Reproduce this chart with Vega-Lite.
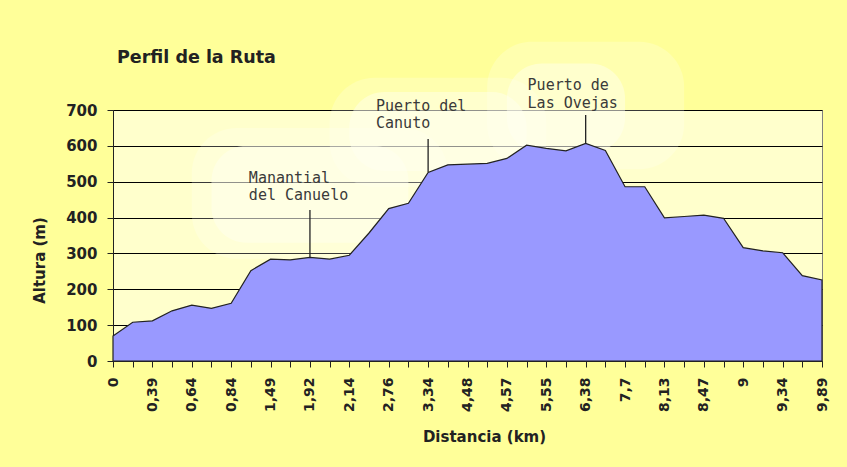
{
  "$schema": "https://vega.github.io/schema/vega-lite/v6.json",
  "width": 709,
  "height": 251,
  "autosize": {"type": "none"},
  "padding": {"left": 113, "top": 110, "right": 25, "bottom": 106},
  "background": "#FFFF99",
  "title": {"text": "Perfil de la Ruta", "anchor": "start", "frame": "group", "font": "DejaVu Sans", "fontSize": 17.5, "fontWeight": "bold", "color": "#222222", "dx": 4, "dy": 29},
  "config": {
    "view": {"fill": "#FFFFCC", "stroke": "#808080", "strokeWidth": 1},
    "axis": {"labelFont": "DejaVu Sans", "labelFontWeight": "bold", "labelColor": "#222222", "titleFont": "DejaVu Sans", "titleFontWeight": "bold", "titleColor": "#222222", "titleFontSize": 15, "domainColor": "#222222", "tickColor": "#222222", "tickSize": 6}
  },
  "datasets": {
    "perfil": [
      {"km": "0", "alt": 70},
      {"km": "0,2", "alt": 108},
      {"km": "0,39", "alt": 112},
      {"km": "0,5", "alt": 140},
      {"km": "0,64", "alt": 156},
      {"km": "0,75", "alt": 147},
      {"km": "0,84", "alt": 161},
      {"km": "1,2", "alt": 252},
      {"km": "1,49", "alt": 284},
      {"km": "1,7", "alt": 282},
      {"km": "1,92", "alt": 289},
      {"km": "2,0", "alt": 284},
      {"km": "2,14", "alt": 295},
      {"km": "2,45", "alt": 357},
      {"km": "2,76", "alt": 425},
      {"km": "3,05", "alt": 440},
      {"km": "3,34", "alt": 526},
      {"km": "3,9", "alt": 547},
      {"km": "4,48", "alt": 549},
      {"km": "4,52", "alt": 551},
      {"km": "4,57", "alt": 565},
      {"km": "5,1", "alt": 602},
      {"km": "5,55", "alt": 593},
      {"km": "6,0", "alt": 586},
      {"km": "6,38", "alt": 607},
      {"km": "7,0", "alt": 587},
      {"km": "7,7", "alt": 486},
      {"km": "7,9", "alt": 486},
      {"km": "8,13", "alt": 399},
      {"km": "8,3", "alt": 403},
      {"km": "8,47", "alt": 407},
      {"km": "8,7", "alt": 398},
      {"km": "9", "alt": 316},
      {"km": "9,2", "alt": 307},
      {"km": "9,34", "alt": 302},
      {"km": "9,6", "alt": 238},
      {"km": "9,89", "alt": 226}
    ],
    "halosOuter": [
      {"km": "0,64", "km2": "3,9", "alt": 650, "alt2": 285},
      {"km": "2,0", "km2": "5,55", "alt": 790, "alt2": 485},
      {"km": "4,52", "km2": "8,3", "alt": 890, "alt2": 535}
    ],
    "halosInner": [
      {"km": "0,75", "km2": "3,05", "alt": 600, "alt2": 330},
      {"km": "2,14", "km2": "5,1", "alt": 750, "alt2": 530},
      {"km": "4,57", "km2": "7,7", "alt": 830, "alt2": 580}
    ],
    "lineas": [
      {"km": "1,92", "alt": 421, "alt2": 289},
      {"km": "3,34", "alt": 619, "alt2": 527},
      {"km": "6,38", "alt": 686, "alt2": 608}
    ]
  },
  "encoding": {
    "x": {"field": "km", "type": "ordinal",
      "scale": {"type": "point", "padding": 0, "domain": ["0", "0,2", "0,39", "0,5", "0,64", "0,75", "0,84", "1,2", "1,49", "1,7", "1,92", "2,0", "2,14", "2,45", "2,76", "3,05", "3,34", "3,9", "4,48", "4,52", "4,57", "5,1", "5,55", "6,0", "6,38", "7,0", "7,7", "7,9", "8,13", "8,3", "8,47", "8,7", "9", "9,2", "9,34", "9,6", "9,89"]},
      "axis": {"title": "Distancia (km)", "labelAngle": -90, "labelAlign": "right", "labelBaseline": "middle", "labelPadding": 10, "labelFontSize": 14, "labelOverlap": false, "labelExpr": "round(datum.index*36) % 2 ? '' : datum.label", "titleX": 371, "titleY": 75, "titleBaseline": "middle", "titleAlign": "center", "grid": false}},
    "y": {"field": "alt", "type": "quantitative",
      "scale": {"domain": [0, 700], "nice": false},
      "axis": {"title": "Altura (m)", "values": [0, 100, 200, 300, 400, 500, 600, 700], "grid": true, "gridColor": "#000000", "gridWidth": 1, "gridOpacity": 1, "labelFontSize": 15, "labelPadding": 10, "labelOverlap": false, "titleX": -74, "titleY": 150, "titleAngle": -90, "titleBaseline": "middle", "titleAlign": "center"}}
  },
  "layer": [
    {
      "data": {"name": "halosOuter"},
      "mark": {"type": "rect", "fill": "#FFFFFF", "opacity": 0.22, "cornerRadius": 45, "clip": false},
      "encoding": {"x2": {"field": "km2"}, "y2": {"field": "alt2"}}
    },
    {
      "data": {"name": "halosInner"},
      "mark": {"type": "rect", "fill": "#FFFFF2", "opacity": 0.45, "cornerRadius": 35, "clip": false},
      "encoding": {"x2": {"field": "km2"}, "y2": {"field": "alt2"}}
    },
    {
      "data": {"name": "perfil"},
      "mark": {"type": "area", "color": "#9999FF", "stroke": "#222222", "strokeWidth": 1.2, "opacity": 1}
    },
    {
      "data": {"name": "lineas"},
      "mark": {"type": "rule", "color": "#222222", "strokeWidth": 1.3, "clip": false},
      "encoding": {"y2": {"field": "alt2"}}
    },
    {
      "data": {"values": [{"km": "1,2", "alt": 497, "t": "Manantial"}, {"km": "1,2", "alt": 449, "t": "del Canuelo"}]},
      "mark": {"type": "text", "align": "left", "baseline": "alphabetic", "dx": -2, "font": "DejaVu Sans Mono", "fontSize": 15, "color": "#3a3a3a", "clip": false},
      "encoding": {"text": {"field": "t"}}
    },
    {
      "data": {"values": [{"km": "2,45", "alt": 697, "t": "Puerto del"}, {"km": "2,45", "alt": 650, "t": "Canuto"}]},
      "mark": {"type": "text", "align": "left", "baseline": "alphabetic", "dx": 7, "font": "DejaVu Sans Mono", "fontSize": 15, "color": "#3a3a3a", "clip": false},
      "encoding": {"text": {"field": "t"}}
    },
    {
      "data": {"values": [{"km": "5,1", "alt": 756, "t": "Puerto de"}, {"km": "5,1", "alt": 705, "t": "Las Ovejas"}]},
      "mark": {"type": "text", "align": "left", "baseline": "alphabetic", "dx": 1, "font": "DejaVu Sans Mono", "fontSize": 15, "color": "#3a3a3a", "clip": false},
      "encoding": {"text": {"field": "t"}}
    }
  ]
}
